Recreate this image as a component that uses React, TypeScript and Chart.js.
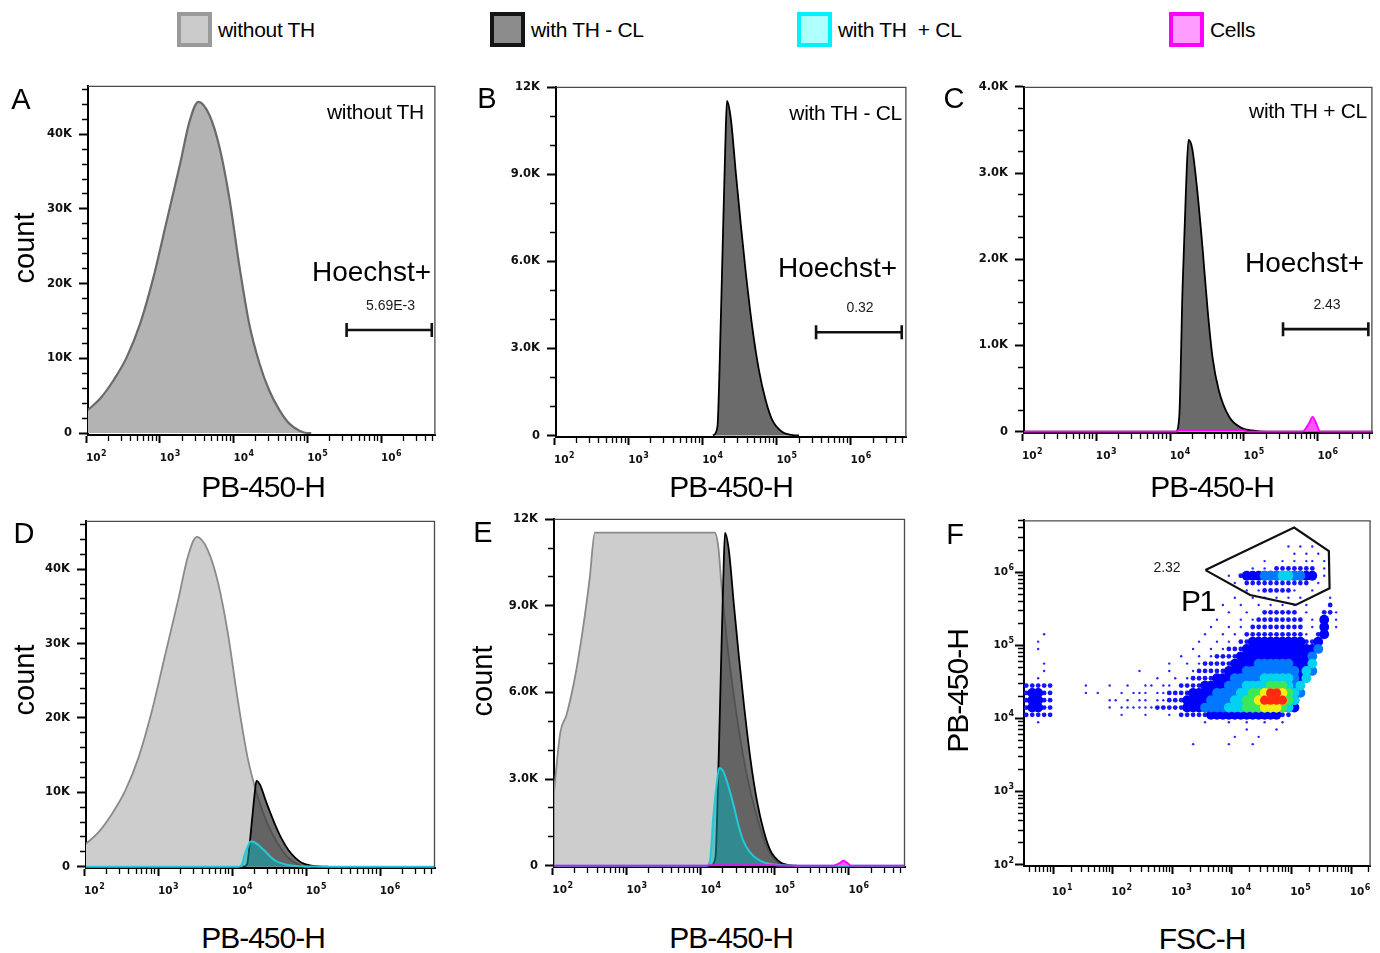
import React, { useEffect, useRef } from "react";
import { Chart, registerables } from "chart.js";
Chart.register(...registerables);

// ================= Histogram data (x = log10 PB-450-H, y = count) =================
const withoutThLog = [2.02, 2.19, 2.37, 2.55, 2.73, 2.91, 3.09, 3.27, 3.40, 3.52, 3.67, 3.81, 3.94, 4.08, 4.21, 4.35, 4.48, 4.62, 4.75, 4.89, 5.0, 5.05];
const withoutThCount = [3060, 4620, 7060, 10160, 14600, 20800, 28360, 35900, 41680, 44340, 42570, 38120, 31460, 22140, 14600, 9280, 5730, 3060, 1290, 310, 0, 0];

// same sample as displayed (top-clipped) in panel E
const withoutThClipLog = [2.02, 2.10, 2.19, 2.30, 2.41, 2.50, 2.57, 4.19, 4.24, 4.28, 4.37, 4.49, 4.62, 4.76, 4.89, 5.03, 5.16];
const withoutThClipCount = [2608, 4560, 5250, 6510, 8230, 9955, 11540, 11540, 10990, 9727, 7430, 5132, 3183, 1688, 655, 138, 0];

const thMinusClLog = [4.14, 4.20, 4.224, 4.27, 4.305, 4.328, 4.38, 4.45, 4.515, 4.58, 4.67, 4.76, 4.85, 4.94, 5.07, 5.25, 5.30];
const thMinusClCount = [0, 300, 1900, 6470, 9900, 11530, 10930, 8990, 7270, 5670, 3730, 2245, 1217, 530, 130, 5, 0];

const thPlusClLog = [2.02, 4.08, 4.125, 4.17, 4.215, 4.25, 4.30, 4.37, 4.44, 4.51, 4.575, 4.66, 4.80, 4.98, 5.11, 5.30, 6.76];
const thPlusClCount = [0, 0, 173, 1672, 2788, 3384, 3287, 2788, 2134, 1404, 865, 481, 173, 39, 15, 0, 0];

const cellsLog = [2.02, 4.08, 4.12, 5.0, 5.05, 5.79, 5.88, 5.93, 5.99, 6.03, 6.76];
const cellsCount = [0, 0, 18, 18, 0, 0, 96, 173, 77, 0, 0];

// Hoechst+ gate (log10 limits) and its drawn level per panel
const gateLog = [5.53, 6.685];
const gateLevelA = 13800;
const gateLevelB = 3560;
const gateLevelC = 1190;
const gateValueA = "5.69E-3";
const gateValueB = "0.32";
const gateValueC = "2.43";

// count axis ticks
const countMajor40K = [0, 10000, 20000, 30000, 40000];
const countLabels40K = ["0", "10K", "20K", "30K", "40K"];
const countMajor12K = [0, 3000, 6000, 9000, 12000];
const countLabels12K = ["0", "3.0K", "6.0K", "9.0K", "12K"];
const countMajor4K = [0, 1000, 2000, 3000, 4000];
const countLabels4K = ["0", "1.0K", "2.0K", "3.0K", "4.0K"];

// ================= Panel F data =================
const p1GateLogX = [3.557, 5.045, 5.628, 5.64, 5.073, 4.307, 3.557];
const p1GateLogY = [6.027, 6.608, 6.286, 5.778, 5.551, 5.687, 6.027];
const p1Value = "2.32";

// density map: [row, firstCol, lastCol, level]
// col c covers log10 FSC-H [0.5+0.1c, 0.6+0.1c]; row r covers log10 PB-450-H [6.6-0.1r, 6.7-0.1r]
// level 1 sparse, 2 medium, 3 blue, 4 light blue, 5 cyan, 6 green, 7 yellow, 8 red
const densitySegments: number[][] = [
  [3,44,44,1],[3,46,46,1],[3,48,48,1],
  [4,45,45,1],[4,47,47,1],[4,49,49,1],
  [5,40,40,1],[5,43,43,1],[5,45,45,1],[5,47,48,1],[5,50,50,1],
  [6,38,38,1],[6,40,40,1],[6,42,48,2],[6,50,50,1],
  [7,34,34,1],[7,36,36,2],[7,37,48,3],[7,40,46,4],[7,43,44,5],[7,50,50,1],
  [8,35,35,1],[8,37,47,2],[8,49,49,1],
  [9,37,37,1],[9,39,39,1],[9,40,44,2],[9,45,45,1],[9,48,48,1],
  [10,35,35,1],[10,38,38,1],[10,40,40,1],[10,42,42,1],[10,44,44,1],[10,46,46,1],[10,51,51,1],
  [11,33,33,1],[11,36,36,1],[11,39,39,1],[11,41,41,1],[11,43,43,1],[11,45,45,1],[11,47,47,1],[11,51,51,2],
  [12,34,34,1],[12,37,37,1],[12,40,45,2],[12,47,47,1],[12,50,51,2],[12,52,52,1],
  [13,32,32,1],[13,36,36,1],[13,38,38,1],[13,39,46,2],[13,48,48,1],[13,50,50,3],[13,52,52,1],
  [14,31,31,1],[14,34,34,1],[14,36,36,1],[14,38,46,2],[14,48,48,1],[14,50,50,3],[14,52,52,1],
  [15,3,3,1],[15,30,30,1],[15,33,33,1],[15,35,35,1],[15,37,46,2],[15,47,47,1],[15,49,49,2],[15,50,50,3],
  [16,2,2,1],[16,29,29,1],[16,32,32,1],[16,34,34,1],[16,36,37,2],[16,38,46,3],[16,47,48,2],[16,49,49,3],
  [17,2,2,1],[17,28,28,1],[17,31,31,1],[17,33,33,1],[17,34,36,2],[17,37,48,3],[17,49,49,4],
  [18,26,26,1],[18,29,29,1],[18,31,31,1],[18,32,35,2],[18,36,47,3],[18,48,48,4],
  [19,3,3,1],[19,24,24,1],[19,27,27,1],[19,29,29,1],[19,30,34,2],[19,35,47,3],[19,39,44,4],[19,48,48,5],
  [20,3,3,1],[20,19,19,1],[20,24,24,1],[20,28,28,1],[20,29,33,2],[20,34,46,3],[20,37,45,4],[20,47,47,5],[20,48,48,4],
  [21,2,2,1],[21,22,22,1],[21,25,25,1],[21,27,27,1],[21,28,31,2],[21,32,46,3],[21,35,45,4],[21,40,44,5],[21,47,47,5],
  [22,0,4,2],[22,10,10,1],[22,14,14,1],[22,17,17,1],[22,20,21,1],[22,23,24,1],[22,26,29,2],[22,30,45,3],[22,34,45,4],[22,37,44,5],[22,41,43,6],[22,46,46,5],
  [23,0,4,2],[23,1,2,3],[23,10,10,1],[23,12,12,1],[23,16,16,1],[23,18,20,1],[23,22,23,1],[23,24,27,2],[23,28,45,3],[23,32,45,4],[23,36,45,5],[23,38,44,6],[23,40,43,7],[23,41,42,8],[23,46,46,4],
  [24,0,4,2],[24,1,2,3],[24,14,15,1],[24,17,17,1],[24,19,20,1],[24,22,23,1],[24,24,26,2],[24,27,45,3],[24,31,45,4],[24,35,45,5],[24,37,44,6],[24,39,43,7],[24,40,43,8],
  [25,0,4,2],[25,1,2,3],[25,14,14,1],[25,16,18,1],[25,19,21,1],[25,22,26,2],[25,27,45,3],[25,30,44,4],[25,34,44,5],[25,37,43,6],[25,40,42,7],
  [26,0,4,2],[26,16,16,1],[26,20,20,1],[26,24,24,1],[26,26,44,2],[26,31,42,3],
  [27,2,2,1],[27,30,30,1],[27,34,34,1],[27,37,37,1],[27,40,40,1],[27,43,43,1],
  [28,37,37,1],[28,42,42,1],
  [29,35,35,1],[29,39,39,1],
  [30,28,28,1],[30,34,34,1],[30,38,38,1],
];
const densityLevels = [1, 2, 3, 4, 5, 6, 7, 8];

// ================= styles / layout =================
const densityColors = ["#2626ff", "#1414ff", "#0000ff", "#0078ff", "#00d2f0", "#3ae85a", "#f4ee12", "#ff2a12"];
const densityRadius = [1.2, 2.4, 4.9, 4.9, 4.9, 4.9, 4.9, 4.6];
const CELL0_X = 0.5, CELL0_Y = 6.7, CELL = 0.1;

const AX_W = 62, PAD_T = 12, PAD_R = 8, AX_H = 46;
const TICK_FONT = { family: "DejaVu Sans", size: 10.5, weight: "bold" as const };
const YTICK_FONT = { family: "DejaVu Sans", size: 11.5, weight: "bold" as const };
const BASE_FONT = 'bold 10.5px "DejaVu Sans"';
const SUP_FONT = 'bold 8px "DejaVu Sans"';

const isDecade = (v: number) => { const l = Math.log10(v); return Math.abs(l - Math.round(l)) < 1e-6; };
function logTickValues(lo: number, hi: number) {
  const out: number[] = [];
  for (let n = Math.floor(lo); n <= Math.ceil(hi); n++)
    for (let k = 1; k <= 9; k++) {
      const lv = n + Math.log10(k);
      if (lv >= lo - 0.03 && lv <= hi) out.push(k * Math.pow(10, n));
    }
  return out;
}

const framePlugin = {
  id: "frame",
  afterDraw(chart: any) {
    const { ctx, chartArea: a } = chart;
    ctx.save();
    ctx.strokeStyle = "#4a4a4a";
    ctx.lineWidth = 1.3;
    ctx.beginPath();
    ctx.moveTo(a.left, a.top + 0.5);
    ctx.lineTo(a.right - 0.5, a.top + 0.5);
    ctx.lineTo(a.right - 0.5, a.bottom);
    ctx.stroke();
    ctx.restore();
  },
};

// draws the decade exponent next to each "10" tick label of logarithmic axes
const exponentPlugin = {
  id: "exponent",
  afterDraw(chart: any) {
    const ctx = chart.ctx;
    ctx.save();
    ctx.font = BASE_FONT;
    const w = ctx.measureText("10").width;
    ctx.font = SUP_FONT;
    ctx.fillStyle = "#111";
    ctx.textAlign = "left";
    ctx.textBaseline = "top";
    for (const id of ["x", "y"]) {
      const s = chart.scales[id];
      if (!s || s.type !== "logarithmic") continue;
      const to = s.options.ticks;
      const tl = s.options.grid.tickLength;
      for (const t of s.ticks) {
        if (!isDecade(t.value)) continue;
        const e = String(Math.round(Math.log10(t.value)));
        if (s.isHorizontal()) {
          const cx = s.getPixelForValue(t.value) + (to.labelOffset || 0);
          ctx.fillText(e, cx + w / 2 + 0.5, s.top + tl + to.padding - 2);
        } else {
          ctx.fillText(e, s.right - tl - to.padding + 0.5, s.getPixelForValue(t.value) - 8.5);
        }
      }
    }
    ctx.restore();
  },
};

type Box = { l: number; t: number; r: number; b: number };
type Series = { logX: number[]; count: number[]; fill: string; stroke: string; width: number; order: number };
type HistSpec = {
  box: Box; xRange: number[]; yRange: number[];
  yMajor: number[]; yLabels: string[]; yStep: number;
  series: Series[]; gate?: number;
};

const LIGHT_SINGLE = { fill: "#b3b3b3", stroke: "#6a6a6a", width: 2.2, order: 4 };
const LIGHT = { fill: "#cdcdcd", stroke: "#8a8a8a", width: 1.8, order: 4 };
const DARK_SINGLE = { fill: "#6b6b6b", stroke: "#000000", width: 1.8, order: 3 };
const DARK = { fill: "rgba(60,60,60,0.72)", stroke: "#000000", width: 1.8, order: 3 };
const CYAN = { fill: "rgba(0,175,185,0.5)", stroke: "#22c9d6", width: 2, order: 2 };
const MAGENTA = { fill: "#ff55ff", stroke: "#ff00ff", width: 1.8, order: 1 };

const PANELS: HistSpec[] = [
  { box: { l: 88, t: 84, r: 437, b: 435 }, xRange: [2.024, 6.734], yRange: [-266, 46470], yMajor: countMajor40K, yLabels: countLabels40K, yStep: 2000,
    series: [{ logX: withoutThLog, count: withoutThCount, ...LIGHT_SINGLE }], gate: gateLevelA },
  { box: { l: 556, t: 85, r: 908, b: 437 }, xRange: [2.023, 6.748], yRange: [-51, 12016], yMajor: countMajor12K, yLabels: countLabels12K, yStep: 1000,
    series: [{ logX: thMinusClLog, count: thMinusClCount, ...DARK_SINGLE }], gate: gateLevelB },
  { box: { l: 1024, t: 85, r: 1374, b: 433 }, xRange: [2.023, 6.74], yRange: [-15, 4000], yMajor: countMajor4K, yLabels: countLabels4K, yStep: 250,
    series: [{ logX: thPlusClLog, count: thPlusClCount, ...DARK_SINGLE }, { logX: cellsLog, count: cellsCount, ...MAGENTA }], gate: gateLevelC },
  { box: { l: 86, t: 519, r: 435, b: 868 }, xRange: [2.022, 6.744], yRange: [-174, 46484], yMajor: countMajor40K, yLabels: countLabels40K, yStep: 2000,
    series: [
      { logX: withoutThLog, count: withoutThCount, ...LIGHT },
      { logX: thMinusClLog, count: thMinusClCount, ...DARK },
      { logX: thPlusClLog, count: thPlusClCount, ...CYAN },
    ] },
  { box: { l: 554, t: 517, r: 905, b: 867 }, xRange: [2.018, 6.76], yRange: [-45, 12012], yMajor: countMajor12K, yLabels: countLabels12K, yStep: 1000,
    series: [
      { logX: withoutThClipLog, count: withoutThClipCount, ...LIGHT },
      { logX: thMinusClLog, count: thMinusClCount, ...DARK },
      { logX: thPlusClLog, count: thPlusClCount, ...CYAN },
      { logX: cellsLog, count: cellsCount, ...MAGENTA },
    ] },
];

function xLogAxis(lo: number, hi: number, labelOffset: number, padding: number) {
  const vals = logTickValues(lo, hi);
  return {
    type: "logarithmic" as const,
    min: Math.pow(10, lo), max: Math.pow(10, hi),
    afterBuildTicks: (s: any) => { s.ticks = vals.map((v) => ({ value: v })); },
    afterFit: (s: any) => { s.height = AX_H; },
    ticks: { autoSkip: false, maxRotation: 0, minRotation: 0, font: TICK_FONT, color: "#111", padding, labelOffset, callback: (v: any) => (isDecade(Number(v)) ? "10" : "") },
    grid: {
      drawOnChartArea: false, drawTicks: true, tickLength: 8, tickColor: "#000",
      tickWidth: (c: any) => (isDecade(c.tick.value) ? 2 : 1.3),
      tickBorderDash: (c: any) => (isDecade(c.tick.value) ? [] : [5, 60]),
    },
    border: { display: true, color: "#000", width: 2 },
  };
}

function HistPanel({ spec }: { spec: HistSpec }) {
  const ref = useRef<HTMLCanvasElement>(null);
  const { l, t, r, b } = spec.box;
  const cw = r - l + AX_W + PAD_R;
  const ch = b - t + PAD_T + AX_H;
  useEffect(() => {
    const yVals: number[] = [];
    for (let v = 0; v <= spec.yRange[1]; v += spec.yStep) yVals.push(v);
    const datasets: any[] = spec.series.map((s) => ({
      type: "line",
      data: s.logX.map((lx, k) => ({ x: Math.pow(10, lx), y: s.count[k] })),
      borderColor: s.stroke, borderWidth: s.width, backgroundColor: s.fill, fill: "origin",
      pointRadius: 0, cubicInterpolationMode: "monotone", order: s.order,
    }));
    if (spec.gate !== undefined) {
      datasets.push({
        type: "line",
        data: gateLog.map((lx) => ({ x: Math.pow(10, lx), y: spec.gate })),
        borderColor: "#111", borderWidth: 2.6, fill: false,
        pointStyle: "line", pointRotation: 90, pointRadius: 7, pointBorderWidth: 2.6, pointBorderColor: "#111", order: 0,
      });
    }
    const chart = new Chart(ref.current!, {
      type: "line",
      data: { datasets },
      options: {
        responsive: false, animation: false, devicePixelRatio: 1,
        layout: { padding: { top: PAD_T, right: PAD_R, left: 0, bottom: 0 } },
        plugins: { legend: { display: false }, tooltip: { enabled: false } },
        scales: {
          x: xLogAxis(spec.xRange[0], spec.xRange[1], 7, 9) as any,
          y: {
            type: "linear", min: spec.yRange[0], max: spec.yRange[1],
            afterBuildTicks: (s: any) => { s.ticks = yVals.map((v) => ({ value: v })); },
            afterFit: (s: any) => { s.width = AX_W; },
            ticks: {
              autoSkip: false, font: YTICK_FONT, color: "#111", padding: 7,
              callback: (v: any) => { const k = spec.yMajor.indexOf(Number(v)); return k >= 0 ? spec.yLabels[k] : ""; },
            },
            grid: {
              drawOnChartArea: false, drawTicks: true, tickLength: 9, tickColor: "#000",
              tickWidth: (c: any) => (spec.yMajor.includes(c.tick.value) ? 2 : 1.3),
              tickBorderDash: (c: any) => (spec.yMajor.includes(c.tick.value) ? [] : [0, 3, 6, 60]),
            },
            border: { display: true, color: "#000", width: 2 },
          } as any,
        },
      },
      plugins: [framePlugin, exponentPlugin],
    });
    return () => chart.destroy();
  }, [spec]);
  return <canvas ref={ref} width={cw} height={ch} style={{ position: "absolute", left: l - AX_W, top: t - PAD_T, width: cw, height: ch }} />;
}

const F_BOX: Box = { l: 1024, t: 519, r: 1373, b: 866 };
const F_X = [0.512, 6.328];
const F_Y = [1.986, 6.707];

function ScatterPanel() {
  const ref = useRef<HTMLCanvasElement>(null);
  const { l, t, r, b } = F_BOX;
  const cw = r - l + AX_W + PAD_R;
  const ch = b - t + PAD_T + AX_H;
  useEffect(() => {
    const cellDatasets = densityLevels.map((level, li) => {
      const pts: { x: number; y: number }[] = [];
      for (const [row, from, to, lv] of densitySegments) {
        if (lv !== level) continue;
        for (let c = from; c <= to; c++)
          pts.push({ x: Math.pow(10, CELL0_X + (c + 0.5) * CELL), y: Math.pow(10, CELL0_Y - (row + 0.5) * CELL) });
      }
      return {
        type: "scatter", data: pts, pointStyle: "circle",
        pointRadius: densityRadius[li], pointBorderWidth: 0,
        backgroundColor: densityColors[li], order: 20 - level, clip: 0,
      };
    });
    const gate = {
      type: "line", showLine: true,
      data: p1GateLogX.map((lx, k) => ({ x: Math.pow(10, lx), y: Math.pow(10, p1GateLogY[k]) })),
      borderColor: "#111", borderWidth: 2.2, fill: false, pointRadius: 0, tension: 0, order: 0,
    };
    const yVals = logTickValues(F_Y[0], F_Y[1]);
    const chart = new Chart(ref.current!, {
      type: "scatter",
      data: { datasets: [gate, ...cellDatasets] as any },
      options: {
        responsive: false, animation: false, devicePixelRatio: 1,
        layout: { padding: { top: PAD_T, right: PAD_R, left: 0, bottom: 0 } },
        plugins: { legend: { display: false }, tooltip: { enabled: false } },
        scales: {
          x: xLogAxis(F_X[0], F_X[1], 6, 12) as any,
          y: {
            type: "logarithmic", min: Math.pow(10, F_Y[0]), max: Math.pow(10, F_Y[1]),
            afterBuildTicks: (s: any) => { s.ticks = yVals.map((v) => ({ value: v })); },
            afterFit: (s: any) => { s.width = AX_W; },
            ticks: { autoSkip: false, font: TICK_FONT, color: "#111", padding: 7, callback: (v: any) => (isDecade(Number(v)) ? "10" : "") },
            grid: {
              drawOnChartArea: false, drawTicks: true, tickLength: 9, tickColor: "#000",
              tickWidth: (c: any) => (isDecade(c.tick.value) ? 2 : 1.3),
              tickBorderDash: (c: any) => (isDecade(c.tick.value) ? [] : [0, 3, 6, 60]),
            },
            border: { display: true, color: "#000", width: 2 },
          } as any,
        },
      },
      plugins: [framePlugin, exponentPlugin],
    });
    return () => chart.destroy();
  }, []);
  return <canvas ref={ref} width={cw} height={ch} style={{ position: "absolute", left: l - AX_W, top: t - PAD_T, width: cw, height: ch }} />;
}

type LabelProps = { x: number; y: number; size: number; text: string; anchor?: "l" | "c" | "r"; rotate?: boolean; spacing?: number; color?: string };
function Label({ x, y, size, text, anchor = "c", rotate = false, spacing = 0, color = "#000" }: LabelProps) {
  const tx = anchor === "l" ? "0" : anchor === "r" ? "-100%" : "-50%";
  return (
    <div style={{
      position: "absolute", left: x, top: y, fontSize: size, lineHeight: 1, whiteSpace: "pre",
      letterSpacing: spacing, color, transform: `translate(${tx},-50%)` + (rotate ? " rotate(-90deg)" : ""),
    }}>{text}</div>
  );
}

const legendItems = [
  { label: "without TH", x: 177, fill: "#cbcbcb", border: "#9a9a9a" },
  { label: "with TH - CL", x: 490, fill: "#8c8c8c", border: "#141414" },
  { label: "with TH  + CL", x: 797, fill: "#b0ffff", border: "#00f0ff" },
  { label: "Cells", x: 1169, fill: "#ff9cff", border: "#ff00ff" },
];

const texts: LabelProps[] = [
  { x: 21, y: 99, size: 29, text: "A" }, { x: 487, y: 98, size: 29, text: "B" }, { x: 954, y: 97.5, size: 29, text: "C" },
  { x: 24, y: 533, size: 29, text: "D" }, { x: 483, y: 532, size: 29, text: "E" }, { x: 955, y: 534, size: 29, text: "F" },
  { x: 24, y: 248, size: 29, text: "count", rotate: true },
  { x: 24, y: 680, size: 29, text: "count", rotate: true },
  { x: 482, y: 681, size: 29, text: "count", rotate: true },
  { x: 263, y: 487, size: 30, text: "PB-450-H", spacing: -1 },
  { x: 731, y: 487, size: 30, text: "PB-450-H", spacing: -1 },
  { x: 1212, y: 487, size: 30, text: "PB-450-H", spacing: -1 },
  { x: 263, y: 938, size: 30, text: "PB-450-H", spacing: -1 },
  { x: 731, y: 938, size: 30, text: "PB-450-H", spacing: -1 },
  { x: 957.5, y: 691, size: 30, text: "PB-450-H", spacing: -1, rotate: true },
  { x: 1202, y: 939, size: 30, text: "FSC-H", spacing: -1 },
  { x: 424, y: 111, size: 21, text: "without TH", anchor: "r", spacing: -0.3 },
  { x: 902, y: 111.5, size: 21, text: "with TH - CL", anchor: "r", spacing: -0.3 },
  { x: 1367, y: 110, size: 21, text: "with TH + CL", anchor: "r", spacing: -0.3 },
  { x: 312, y: 272, size: 28, text: "Hoechst+", anchor: "l" },
  { x: 778, y: 268, size: 28, text: "Hoechst+", anchor: "l" },
  { x: 1245, y: 263, size: 28, text: "Hoechst+", anchor: "l" },
  { x: 390.5, y: 305, size: 14, text: gateValueA, color: "#1a1a1a" },
  { x: 860, y: 307, size: 14, text: gateValueB, color: "#1a1a1a" },
  { x: 1327, y: 304, size: 14, text: gateValueC, color: "#1a1a1a" },
  { x: 1167, y: 567, size: 14, text: p1Value, color: "#1a1a1a" },
  { x: 1181, y: 601, size: 30, text: "P1", anchor: "l", spacing: -1.5 },
];

export default function App() {
  return (
    <div style={{ position: "absolute", left: 0, top: 0, width: 1380, height: 953, overflow: "hidden", background: "#fff", fontFamily: '"Liberation Sans", Arial, sans-serif', color: "#000" }}>
      {legendItems.map((it) => (
        <React.Fragment key={it.label}>
          <div style={{ position: "absolute", left: it.x, top: 12, width: 35, height: 35, boxSizing: "border-box", border: `4px solid ${it.border}`, background: it.fill, filter: "blur(0.7px)" }} />
          <Label x={it.x + 41} y={29} size={21} text={it.label} anchor="l" spacing={-0.3} />
        </React.Fragment>
      ))}
      {PANELS.map((p, i) => <HistPanel key={i} spec={p} />)}
      <ScatterPanel />
      {texts.map((t, i) => <Label key={i} {...t} />)}
    </div>
  );
}
